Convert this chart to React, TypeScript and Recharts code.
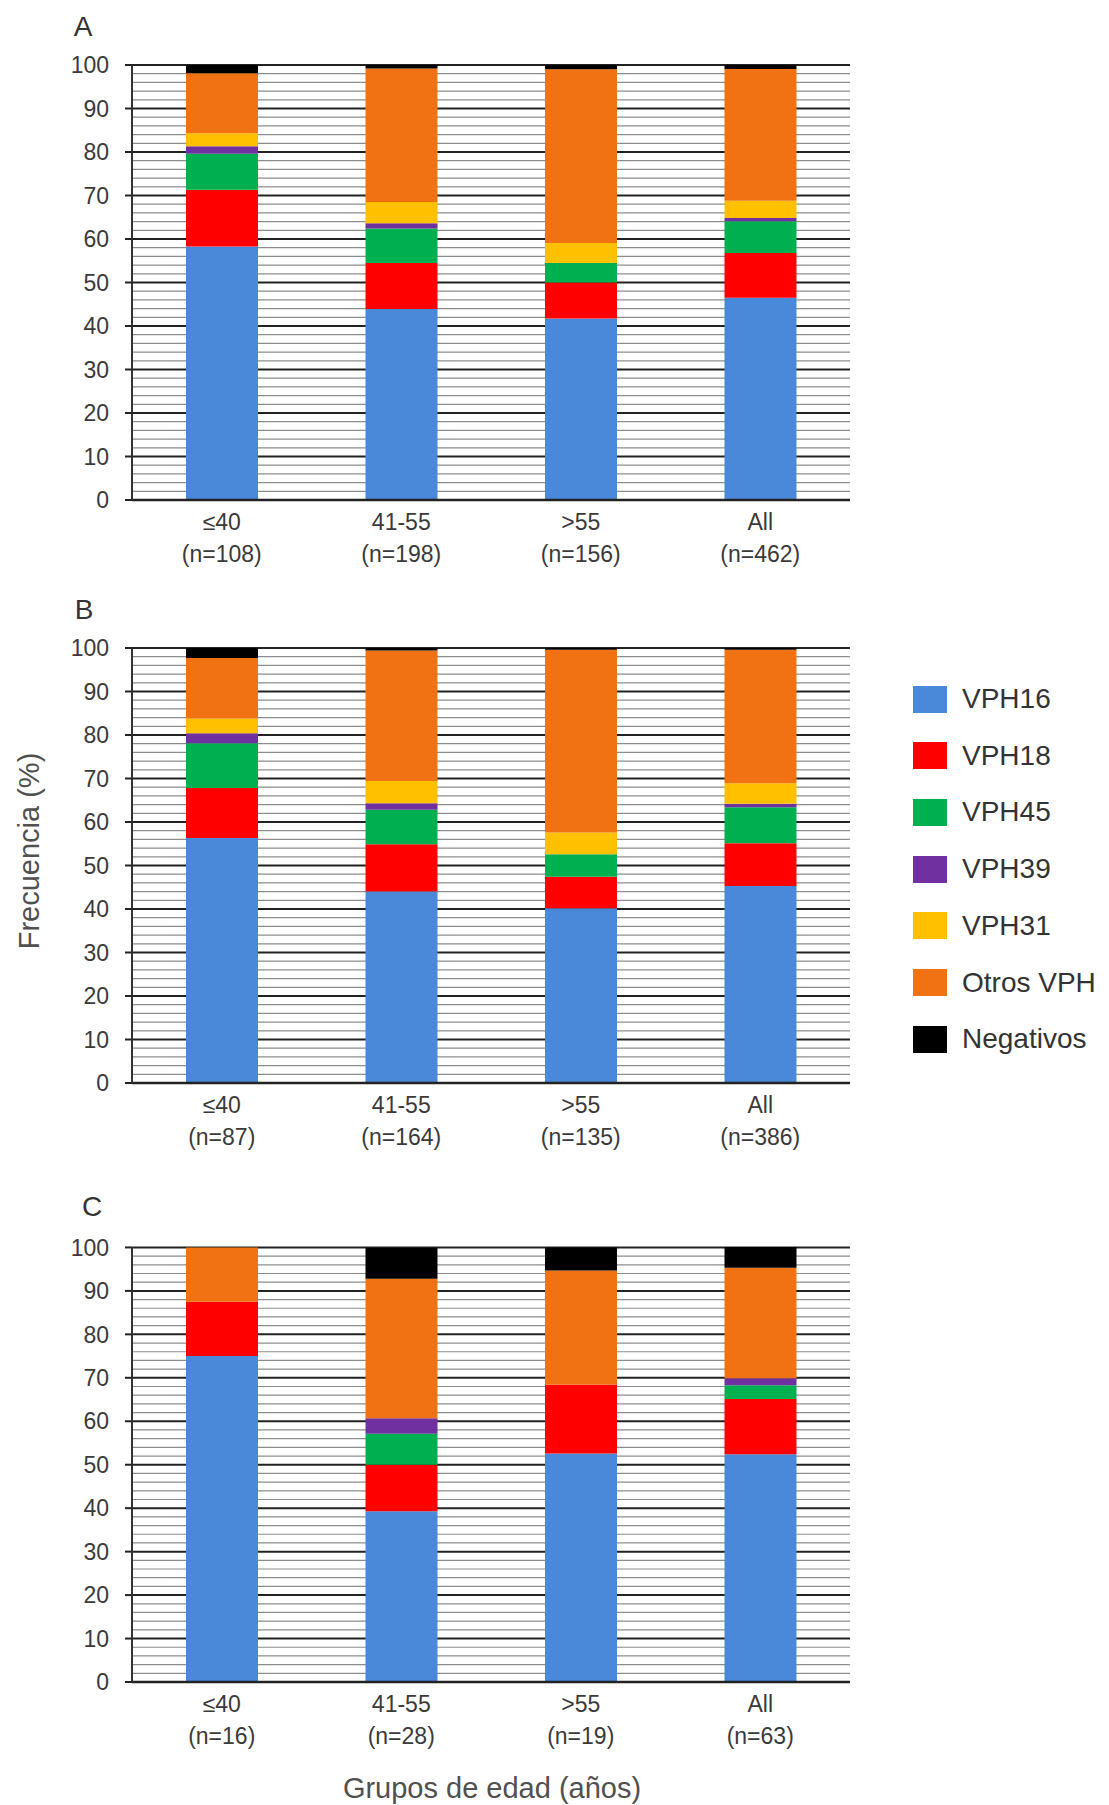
import React from 'react';
import { BarChart, Bar, XAxis, YAxis, CartesianGrid } from 'recharts';

const categories = ['≤40', '41-55', '>55', 'All'];
const seriesNames = ['VPH16', 'VPH18', 'VPH45', 'VPH39', 'VPH31', 'Otros VPH', 'Negativos'];
const seriesColors = ['#4a88da', '#ff0000', '#00b050', '#7030a0', '#ffc000', '#f07212', '#000000'];

const majorTicks = [0, 10, 20, 30, 40, 50, 60, 70, 80, 90, 100];
const minorTicks = [2, 4, 6, 8, 12, 14, 16, 18, 22, 24, 26, 28, 32, 34, 36, 38, 42, 44, 46, 48, 52, 54, 56, 58, 62, 64, 66, 68, 72, 74, 76, 78, 82, 84, 86, 88, 92, 94, 96, 98];

// Panel A
const nA = [108, 198, 156, 462];
const vph16A = [58.3, 43.9, 41.7, 46.5];
const vph18A = [13.0, 10.6, 8.3, 10.3];
const vph45A = [8.3, 7.9, 4.5, 7.3];
const vph39A = [1.7, 1.2, 0, 0.7];
const vph31A = [3.0, 4.9, 4.6, 4.0];
const otrosA = [13.8, 30.7, 39.9, 30.3];
const negA = [1.9, 0.8, 1.0, 0.9];

// Panel B
const nB = [87, 164, 135, 386];
const vph16B = [56.3, 44.0, 40.2, 45.3];
const vph18B = [11.5, 10.9, 7.2, 9.8];
const vph45B = [10.3, 7.9, 5.2, 8.3];
const vph39B = [2.3, 1.5, 0, 0.8];
const vph31B = [3.4, 5.1, 5.0, 4.7];
const otrosB = [13.9, 30.0, 42.0, 30.7];
const negB = [2.3, 0.6, 0.4, 0.4];

// Panel C
const nC = [16, 28, 19, 63];
const vph16C = [75.0, 39.3, 52.6, 52.4];
const vph18C = [12.5, 10.7, 15.8, 12.7];
const vph45C = [0, 7.1, 0, 3.2];
const vph39C = [0, 3.6, 0, 1.6];
const vph31C = [0, 0, 0, 0];
const otrosC = [12.5, 32.1, 26.3, 25.4];
const negC = [0, 7.1, 5.3, 4.8];

const buildRows = (series: number[][], ns: number[]) =>
  categories.map((name, i) => {
    const row: Record<string, any> = { name, n: ns[i] };
    seriesNames.forEach((s, k) => {
      row[s] = series[k][i];
    });
    return row;
  });

const rowsA = buildRows([vph16A, vph18A, vph45A, vph39A, vph31A, otrosA, negA], nA);
const rowsB = buildRows([vph16B, vph18B, vph45B, vph39B, vph31B, otrosB, negB], nB);
const rowsC = buildRows([vph16C, vph18C, vph45C, vph39C, vph31C, otrosC, negC], nC);

const FONT = '"Liberation Sans", Arial, sans-serif';

const makeTick = (ns: number[]) => (props: any) => {
  const { x, y, payload } = props;
  const idx = props.index ?? payload.index ?? 0;
  return (
    <g transform={`translate(${x},${y})`}>
      <text x={0} y={22} textAnchor="middle" dominantBaseline="central" fontFamily={FONT} fontSize={23} fill="#3a3a3a">
        {payload.value}
      </text>
      <text x={0} y={54} textAnchor="middle" dominantBaseline="central" fontFamily={FONT} fontSize={23} fill="#3a3a3a">
        (n={ns[idx]})
      </text>
    </g>
  );
};

const Panel: React.FC<{ rows: any[]; ns: number[]; top: number }> = ({ rows, ns, top }) => (
  <div style={{ position: 'absolute', left: 0, top }}>
    <BarChart width={870} height={560} data={rows} margin={{ top: 20, right: 20, bottom: 0, left: 0 }}>
      <CartesianGrid vertical={false} horizontalValues={minorTicks} stroke="#8c8c8c" strokeWidth={1.2} />
      <CartesianGrid vertical={false} horizontalValues={majorTicks} stroke="#222" strokeWidth={2} />
      <XAxis
        dataKey="name"
        height={105}
        tickLine={false}
        tickSize={0}
        tickMargin={0}
        axisLine={{ stroke: '#222', strokeWidth: 2.5 }}
        tick={makeTick(ns)}
        interval={0}
      />
      <YAxis
        width={132}
        domain={[0, 100]}
        ticks={majorTicks}
        interval={0}
        tickSize={7}
        tickMargin={16}
        tickLine={{ stroke: '#222', strokeWidth: 2 }}
        axisLine={{ stroke: '#333', strokeWidth: 2 }}
        tick={{ fontFamily: FONT, fontSize: 23, fill: '#3a3a3a' }}
      />
      {seriesNames.map((s, k) => (
        <Bar key={s} dataKey={s} stackId="s" fill={seriesColors[k]} barSize={72} isAnimationActive={false} />
      ))}
    </BarChart>
  </div>
);

const letterStyle = (x: number, y: number): React.CSSProperties => ({
  position: 'absolute',
  left: x,
  top: y,
  transform: 'translate(-50%, -50%)',
  fontFamily: FONT,
  fontSize: 28,
  color: '#333',
});

const App: React.FC = () => {
  return (
    <div style={{ position: 'absolute', left: 0, top: 0, width: 1109, height: 1805, background: '#fff', overflow: 'hidden' }}>
      <Panel rows={rowsA} ns={nA} top={45} />
      <Panel rows={rowsB} ns={nB} top={628} />
      <Panel rows={rowsC} ns={nC} top={1227} />

      <div style={letterStyle(83, 27)}>A</div>
      <div style={letterStyle(84, 610)}>B</div>
      <div style={letterStyle(92, 1207)}>C</div>

      <div
        style={{
          position: 'absolute',
          left: 29,
          top: 851,
          transform: 'translate(-50%, -50%) rotate(-90deg)',
          fontFamily: FONT,
          fontSize: 29,
          color: '#505050',
          whiteSpace: 'nowrap',
        }}
      >
        Frecuencia (%)
      </div>

      <div
        style={{
          position: 'absolute',
          left: 492,
          top: 1788,
          transform: 'translate(-50%, -50%)',
          fontFamily: FONT,
          fontSize: 29,
          color: '#505050',
          whiteSpace: 'nowrap',
        }}
      >
        Grupos de edad (años)
      </div>

      {seriesNames.map((s, k) => (
        <div key={s} style={{ position: 'absolute', left: 913, top: 699 + k * 56.7 - 14, height: 28, display: 'flex', alignItems: 'center' }}>
          <div style={{ width: 34, height: 27, background: seriesColors[k] }} />
          <span style={{ marginLeft: 15, fontFamily: FONT, fontSize: 28, color: '#333', whiteSpace: 'nowrap' }}>{s}</span>
        </div>
      ))}
    </div>
  );
};

export default App;
